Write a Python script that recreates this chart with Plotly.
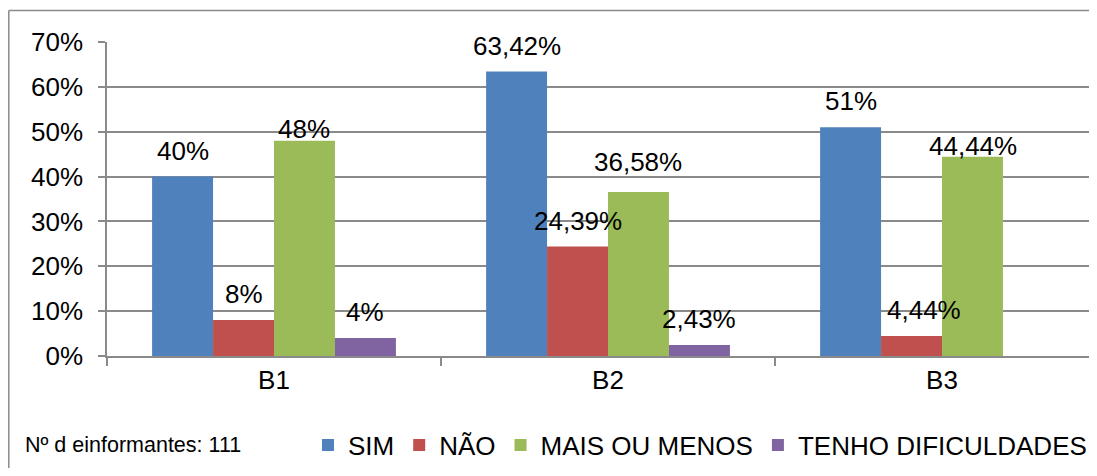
import plotly.graph_objects as go

categories = ["B1", "B2", "B3"]
series_names = ["SIM", "NÃO", "MAIS OU MENOS", "TENHO DIFICULDADES"]
sim = [40, 63.42, 51]
nao = [8, 24.39, 4.44]
mais_ou_menos = [48, 36.58, 44.44]
tenho_dificuldades = [4, 2.43, None]
y_ticks = [0, 10, 20, 30, 40, 50, 60, 70]
note_text = "Nº d einformantes: 111"

series_values = [sim, nao, mais_ou_menos, tenho_dificuldades]
colors = ["#4F81BD", "#C0504D", "#9BBB59", "#8064A2"]

# label nudges (pixels) copied from the reference's hand-placed labels
label_yshift = {(2, 0): 12, (2, 2): 11, (2, 1): 30}
label_xshift = {(1, 2): 12}

FONT = "Arial, Liberation Sans, sans-serif"
GRAY = "#8a8a8a"
BARGAP = 0.27

fig = go.Figure()
for name, vals, col in zip(series_names, series_values, colors):
    fig.add_trace(go.Bar(x=categories, y=vals, name=name,
                         marker=dict(color=col, line=dict(width=0))))

n = len(series_values)
bw = (1 - BARGAP) / n
annotations = []
for si, vals in enumerate(series_values):
    off = -(1 - BARGAP) / 2 + bw * (si + 0.5)
    for ci, v in enumerate(vals):
        if v is None:
            continue
        txt = f"{v:g}".replace(".", ",") + "%"
        annotations.append(dict(
            x=ci + off, y=v, xref="x", yref="y", text=txt, showarrow=False,
            yanchor="middle", xanchor="center",
            yshift=label_yshift.get((si, ci), 26),
            xshift=label_xshift.get((si, ci), 0),
            font=dict(size=26, color="black", family=FONT)))

annotations.append(dict(
    x=-0.085, y=-0.284, xref="paper", yref="paper", text=note_text,
    showarrow=False, xanchor="left", yanchor="middle",
    font=dict(size=21.5, color="black", family=FONT)))

# outer chart frame: only its top and left edges fall inside the picture
frame = [
    dict(type="line", xref="paper", yref="paper", x0=-0.0992, x1=1.3,
         y0=1.1, y1=1.1, line=dict(color=GRAY, width=1.5), layer="below"),
    dict(type="line", xref="paper", yref="paper", x0=-0.0992, x1=-0.0992,
         y0=-0.8, y1=1.1, line=dict(color=GRAY, width=1.5), layer="below"),
]

fig.update_layout(
    width=1089, height=460,
    margin=dict(l=99, r=0, t=34, b=112, autoexpand=False),
    paper_bgcolor="white", plot_bgcolor="white",
    barmode="group", bargap=BARGAP, bargroupgap=0,
    font=dict(family=FONT, size=26, color="black"),
    showlegend=True,
    legend=dict(orientation="h", x=0.203, xanchor="left", y=-0.284,
                yanchor="middle", font=dict(size=26, family=FONT),
                itemwidth=30, bgcolor="rgba(0,0,0,0)",
                traceorder="normal"),
    annotations=annotations,
    shapes=frame,
)

fig.update_xaxes(
    type="category", categoryorder="array", categoryarray=categories,
    range=[-0.5, 2.464], showline=True, linecolor=GRAY, linewidth=1.5,
    ticks="outside", tickson="boundaries", ticklen=8, tickcolor=GRAY,
    tickwidth=1.5, showgrid=False, zeroline=False,
    tickfont=dict(size=26, family=FONT, color="black"))

fig.update_yaxes(
    range=[0, 70], tickvals=y_ticks, ticktext=[f"{t}%" for t in y_ticks],
    showline=True, linecolor=GRAY, linewidth=1.5,
    ticks="outside", ticklen=7, tickcolor=GRAY, tickwidth=1.5,
    showgrid=True, gridcolor=GRAY, gridwidth=1.5, zeroline=False,
    ticklabelstandoff=10,
    tickfont=dict(size=26, family=FONT, color="black"))

fig.write_html("out.html")
